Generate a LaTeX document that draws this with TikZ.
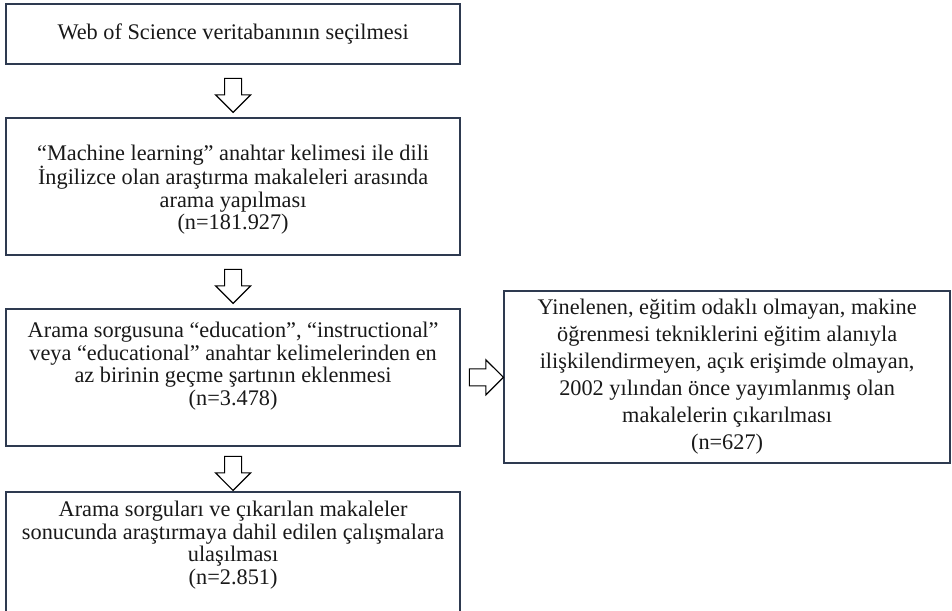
\documentclass[tikz,border=0pt]{standalone}
\usepackage{fontspec}
\setmainfont{Liberation Serif}
\usetikzlibrary{shapes.arrows,calc}
\definecolor{edgecol}{HTML}{2E3A50}
\begin{document}
\begin{tikzpicture}[x=1pt,y=-1pt,
  box/.style={draw=edgecol, line width=2.2pt, inner sep=0pt, anchor=north west, fill=white},
  txt/.style={align=center, font=\fontsize{22.3}{22.5}\selectfont, inner sep=0pt, text=black!90},
  wtxt/.style={txt, font=\fontsize{22.3}{27}\selectfont},
  darrow/.style={single arrow, draw=black, line width=1.1pt, fill=white, inner sep=8pt,
    minimum width=34pt, minimum height=34pt, single arrow head extend=9pt, single arrow tip angle=90},
]
\useasboundingbox (0,0) rectangle (952,610);
\fill[white] (0,0) rectangle (952,610);
\begin{scope}
\clip (0,0) rectangle (952,610);
\node[box, minimum width=454pt, minimum height=60pt] (b1) at (5,3) {};
\node[box, minimum width=454pt, minimum height=137pt] (b2) at (5,117) {};
\node[box, minimum width=454pt, minimum height=137pt] (b3) at (5,308) {};
\node[box, minimum width=454pt, minimum height=125pt] (b4) at (5,491) {};
\node[box, minimum width=446pt, minimum height=172pt] (b5) at (503,290) {};
\end{scope}

\node[txt] (t1) at (b1.center) {Web of Science veritabanının seçilmesi};
\node[txt, anchor=north] (t2) at ($(b2.north)+(0,28)$) {“Machine learning” anahtar kelimesi ile dili\\İngilizce olan araştırma makaleleri arasında\\arama yapılması\\(n=181.927)};
\node[txt, anchor=north] (t3) at ($(b3.north)+(0,14)$) {Arama sorgusuna “education”, “instructional”\\veya “educational” anahtar kelimelerinden en\\az birinin geçme şartının eklenmesi\\(n=3.478)};
\node[txt, anchor=north] (t4) at ($(b4.north)+(0,10)$) {Arama sorguları ve çıkarılan makaleler\\sonucunda araştırmaya dahil edilen çalışmalara\\ulaşılması\\(n=2.851)};
\node[wtxt] (t5) at (b5.center) {Yinelenen, eğitim odaklı olmayan, makine\\öğrenmesi tekniklerini eğitim alanıyla\\ilişkilendirmeyen, açık erişimde olmayan,\\2002 yılından önce yayımlanmış olan\\makalelerin çıkarılması\\(n=627)};

\node[darrow, shape border rotate=270] (a1) at ($(b1.south)!0.5!(b2.north)$) {};
\node[darrow, shape border rotate=270] (a2) at ($(b2.south)!0.5!(b3.north)$) {};
\node[darrow, shape border rotate=270] (a3) at ($(b3.south)!0.5!(b4.north)$) {};
\node[darrow] (a4) at ($(b3.east)!0.5!(b5.west)$) {};
\end{tikzpicture}
\end{document}
